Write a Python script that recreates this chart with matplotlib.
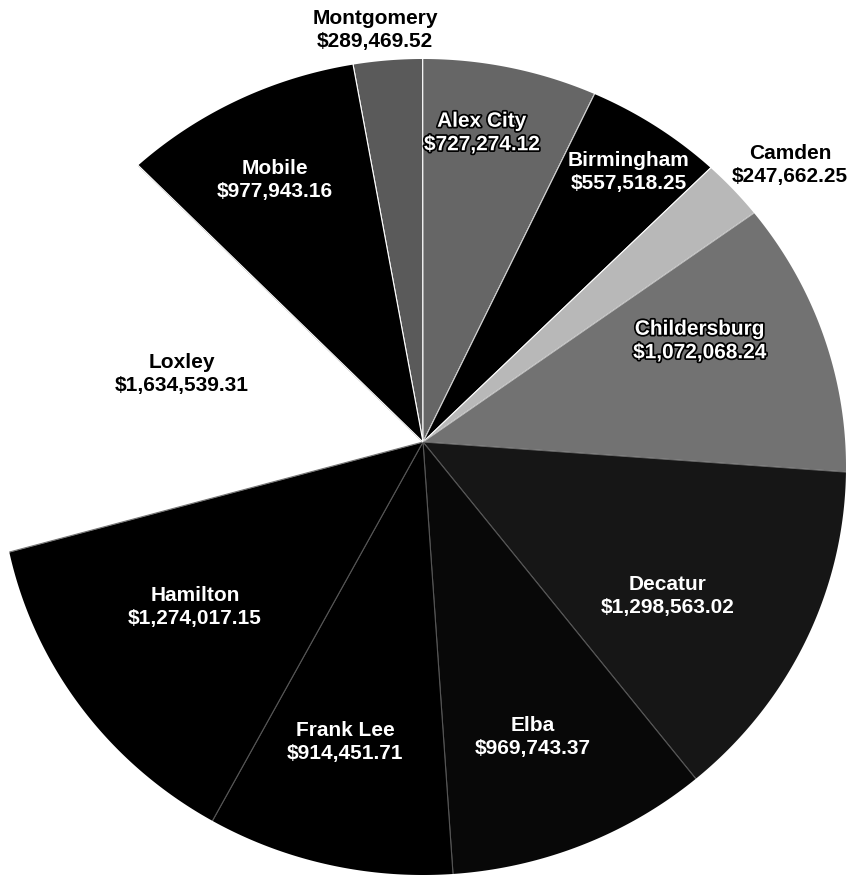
import matplotlib
matplotlib.use("Agg")
import numpy as np
import matplotlib.pyplot as plt
from matplotlib.path import Path
from matplotlib.patches import PathPatch
import matplotlib.patheffects as pe

# ---- data ----
cities = ["Montgomery", "Alex City", "Birmingham", "Camden", "Childersburg",
          "Decatur", "Elba", "Frank Lee", "Hamilton", "Loxley", "Mobile"]
sales = [289469.52, 727274.12, 557518.25, 247662.25, 1072068.24,
         1298563.02, 969743.37, 914451.71, 1274017.15, 1634539.31, 977943.16]

# ---- style ----
colors = ["#5a5a5a", "#666666", "#000000", "#b8b8b8", "#727272",
          "#161616", "#080808", "#000000", "#000000", "#ffffff", "#000000"]
edge_colors = ["white", "white", "#cccccc", "white", "#bbbbbb",
               "#666666", "#555555", "#555555", "#555555", "#777777", "white"]
text_colors = ["black", "white", "white", "black", "white",
               "white", "white", "white", "white", "black", "white"]
outlined = [False, True, False, False, True, False, False, False, False, False, False]
# label centres in image pixels (x, y from top)
label_pos = [(375, 30), (482, 133), (629, 172), (790, 165), (700, 341),
             (668, 596), (533, 737), (345, 742), (195, 607), (182, 374), (275, 180)]

W, H = 862, 886
fig = plt.figure(figsize=(W / 100, H / 100), dpi=100)
ax = fig.add_axes([0, 0, 1, 1])

wedges, _ = ax.pie(sales, colors=colors, startangle=100.5, counterclock=False,
                   center=(423, H - 442), radius=450, frame=True,
                   wedgeprops=dict(linewidth=0.8))
for w, ec in zip(wedges, edge_colors):
    w.set_edgecolor(ec)

# white mask outside the (slightly oval, off-centre) outline of the scanned pie
ex, ey, ea, eb = 423, H - 467, 423, 408
t = np.linspace(0, 2 * np.pi, 721)[::-1]
ell = np.column_stack([ex + ea * np.cos(t), ey + eb * np.sin(t)])
rect = np.array([[-50, -50], [W + 50, -50], [W + 50, H + 50], [-50, H + 50], [-50, -50]])
verts = np.vstack([rect, ell])
codes = ([Path.MOVETO] + [Path.LINETO] * 3 + [Path.CLOSEPOLY]
         + [Path.MOVETO] + [Path.LINETO] * (len(ell) - 2) + [Path.CLOSEPOLY])
ax.add_patch(PathPatch(Path(verts, codes), facecolor="white", edgecolor="none", zorder=3))

ax.set_xlim(0, W)
ax.set_ylim(0, H)
ax.set_aspect("auto")
ax.axis("off")

for name, v, (x, y), tc, ol in zip(cities, sales, label_pos, text_colors, outlined):
    effects = [pe.withStroke(linewidth=2.5, foreground="black")] if ol else None
    ax.text(x, H - y, f"{name}\n${v:,.2f}", ha="center", va="center",
            fontsize=15, fontweight="bold", family=["Liberation Sans", "DejaVu Sans"],
            color=tc, linespacing=1.3, path_effects=effects, zorder=5)

fig.savefig("out.png", dpi=100, facecolor="white")
